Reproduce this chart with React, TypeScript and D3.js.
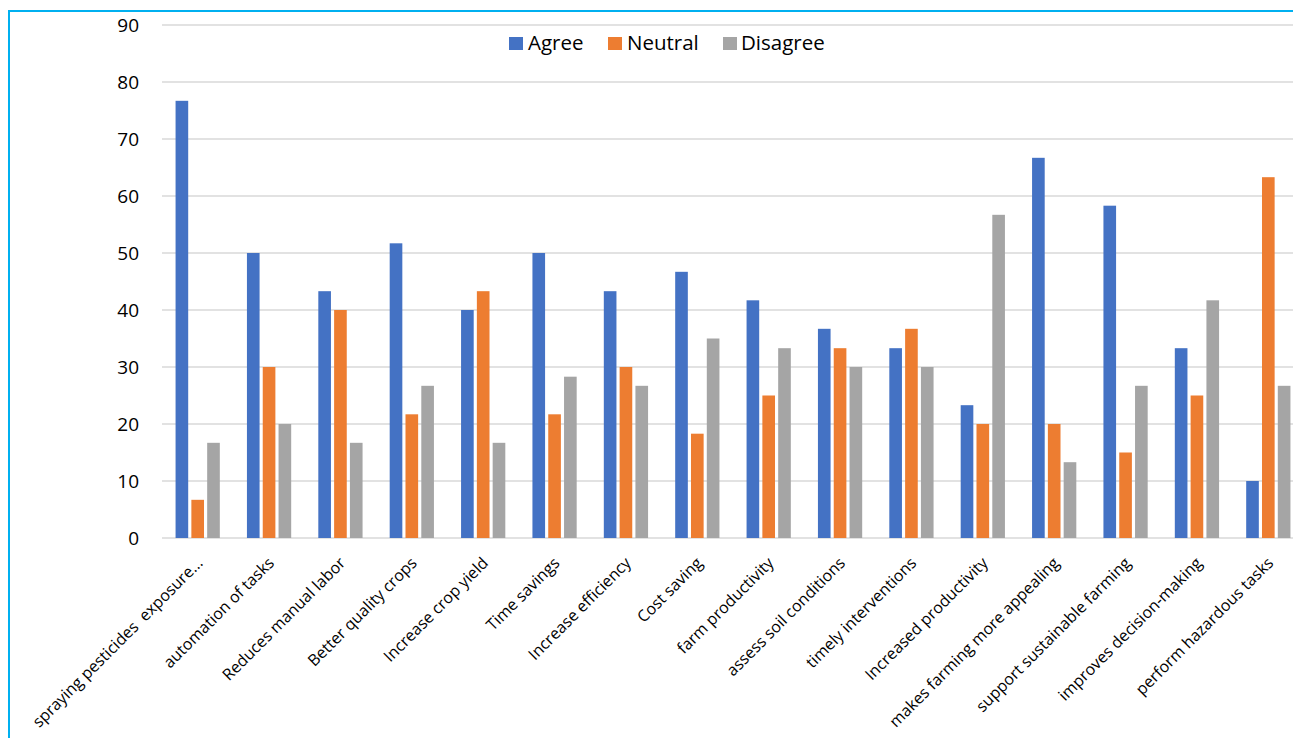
import React from "react";
import * as d3 from "d3";

const categories = [
  "spraying pesticides  exposure...",
  "automation of tasks",
  "Reduces manual labor",
  "Better quality crops",
  "Increase crop yield",
  "Time savings",
  "Increase efficiency",
  "Cost saving",
  "farm productivity",
  "assess soil conditions",
  "timely interventions",
  "Increased productivity",
  "makes farming more appealing",
  "support sustainable farming",
  "improves decision-making",
  "perform hazardous tasks",
];
const agree = [76.7, 50, 43.3, 51.7, 40, 50, 43.3, 46.7, 41.7, 36.7, 33.3, 23.3, 66.7, 58.3, 33.3, 10];
const neutral = [6.7, 30, 40, 21.7, 43.3, 21.7, 30, 18.3, 25, 33.3, 36.7, 20, 20, 15, 25, 63.3];
const disagree = [16.7, 20, 16.7, 26.7, 16.7, 28.3, 26.7, 35, 33.3, 30, 30, 56.7, 13.3, 26.7, 41.7, 26.7];
const seriesNames = ["Agree", "Neutral", "Disagree"];
const yTicks = [0, 10, 20, 30, 40, 50, 60, 70, 80, 90];

const colors = ["#4472C4", "#ED7D31", "#A5A5A5"];
const FONT = "'Open Sans', 'Liberation Sans', sans-serif";

export default function App() {
  const W = 1293;
  const H = 738;
  const left = 162;
  const right = 1304;
  const top = 25;
  const bottom = 538;
  const series = [agree, neutral, disagree];

  const y = d3.scaleLinear().domain([0, 90]).range([bottom, top]);
  const x0 = d3
    .scaleBand<string>()
    .domain(categories)
    .range([left, right])
    .paddingInner(0.38)
    .paddingOuter(0.19);
  const x1 = d3
    .scaleBand<string>()
    .domain(seriesNames)
    .range([0, x0.bandwidth()])
    .paddingInner(0.2);

  const legendItems = [
    { name: "Agree", sx: 509, tx: 528 },
    { name: "Neutral", sx: 608, tx: 627 },
    { name: "Disagree", sx: 723, tx: 741 },
  ];

  return (
    <svg
      width={W}
      height={H}
      style={{ position: "absolute", left: 0, top: 0, background: "#fff", overflow: "hidden" }}
    >
      <rect x={0} y={0} width={W} height={H} fill="#fff" />
      <rect
        x={9}
        y={11}
        width={W + 40}
        height={H + 40}
        fill="none"
        stroke="#00B0F0"
        strokeWidth={2}
      />
      {yTicks.map((t) => (
        <g key={t}>
          <line
            x1={left}
            x2={right}
            y1={y(t)}
            y2={y(t)}
            stroke="#D9D9D9"
            strokeWidth={1.3}
          />
          <text
            x={139}
            y={y(t)}
            dy="0.35em"
            textAnchor="end"
            fontFamily={FONT}
            fontSize={19}
            fill="#000"
          >
            {t}
          </text>
        </g>
      ))}
      {categories.map((c, i) => (
        <g key={c} transform={`translate(${x0(c)},0)`}>
          {series.map((s, j) => (
            <rect
              key={j}
              x={x1(seriesNames[j])}
              y={y(s[i])}
              width={x1.bandwidth()}
              height={y(0) - y(s[i])}
              fill={colors[j]}
            />
          ))}
        </g>
      ))}
      {categories.map((c) => {
        const cx = (x0(c) as number) + x0.bandwidth() / 2 + 6;
        const cy = 564;
        return (
          <text
            key={c}
            transform={`translate(${cx},${cy}) rotate(-45)`}
            textAnchor="end"
            fontFamily={FONT}
            fontSize={16}
            fill="#000"
            style={{ whiteSpace: "pre" }}
          >
            {c}
          </text>
        );
      })}
      {legendItems.map((l, i) => (
        <g key={l.name}>
          <rect x={l.sx} y={37} width={14} height={13} fill={colors[i]} />
          <text
            x={l.tx}
            y={49.5}
            fontFamily={FONT}
            fontSize={20.5}
            fill="#000"
          >
            {l.name}
          </text>
        </g>
      ))}
    </svg>
  );
}
